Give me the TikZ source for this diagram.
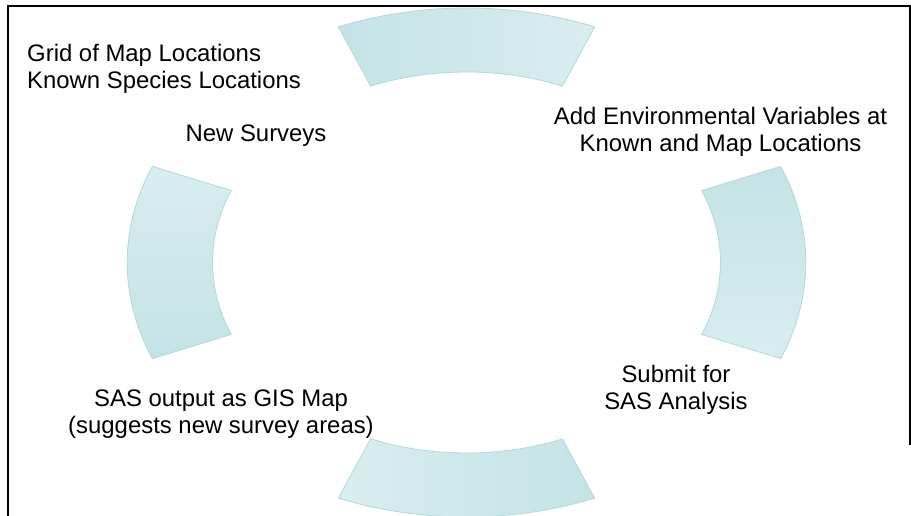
\documentclass[tikz,border=0pt]{standalone}
\usepackage{fontspec}
\setmainfont{Liberation Sans}
\begin{document}
\begin{tikzpicture}[x=1pt,y=1pt,
  lbl/.style={inner sep=0pt, align=center, font=\fontsize{23.9}{26.8}\selectfont},
  seg/.style={draw=segline, line width=0.8pt},
  frameline/.style={draw=black, line width=2pt}]
\definecolor{segdark}{RGB}{196,227,230}
\definecolor{seglight}{RGB}{217,237,239}
\definecolor{segline}{RGB}{178,218,222}
\useasboundingbox (0,0) rectangle (911,516);
% frame
\coordinate (fbl) at (8,0);
\coordinate (ftl) at (8,510);
\coordinate (ftr) at (911,510);
\coordinate (frt) at (910,510);
\coordinate (frb) at (910,71);
\draw[frameline] (fbl) -- (ftl) -- (ftr);
\draw[frameline] (frt) -- (frb);
% ring segments
\begin{scope}[shift={(466.5,253.5)}, xscale=1.3333]
  \def\ro{254.5}\def\ri{190.5}\def\hw{22.2}
  % top
  \shade[seg, left color=segdark, right color=seglight]
    (90+\hw:\ro) arc[start angle=90+\hw, end angle=90-\hw, radius=\ro]
    -- (90-\hw:\ri) arc[start angle=90-\hw, end angle=90+\hw, radius=\ri] -- cycle;
  % right
  \shade[seg, top color=segdark, bottom color=seglight]
    (\hw:\ro) arc[start angle=\hw, end angle=-\hw, radius=\ro]
    -- (-\hw:\ri) arc[start angle=-\hw, end angle=\hw, radius=\ri] -- cycle;
  % bottom
  \shade[seg, left color=seglight, right color=segdark]
    (270+\hw:\ro) arc[start angle=270+\hw, end angle=270-\hw, radius=\ro]
    -- (270-\hw:\ri) arc[start angle=270-\hw, end angle=270+\hw, radius=\ri] -- cycle;
  % left
  \shade[seg, top color=seglight, bottom color=segdark]
    (180+\hw:\ro) arc[start angle=180+\hw, end angle=180-\hw, radius=\ro]
    -- (180-\hw:\ri) arc[start angle=180-\hw, end angle=180+\hw, radius=\ri] -- cycle;
\end{scope}
% labels
\node[lbl, align=left, anchor=west] (grid) at (27,447.5) {Grid of Map Locations\\Known Species Locations};
\node[lbl] (new) at (256,380.5) {New Surveys};
\node[lbl] (env) at (720.5,384.5) {Add Environmental Variables at\\Known and Map Locations};
\node[lbl] (sub) at (676,126) {Submit for\\SAS Analysis};
\node[lbl] (gis) at (221,102) {SAS output as GIS Map\\(suggests new survey areas)};
\end{tikzpicture}
\end{document}
